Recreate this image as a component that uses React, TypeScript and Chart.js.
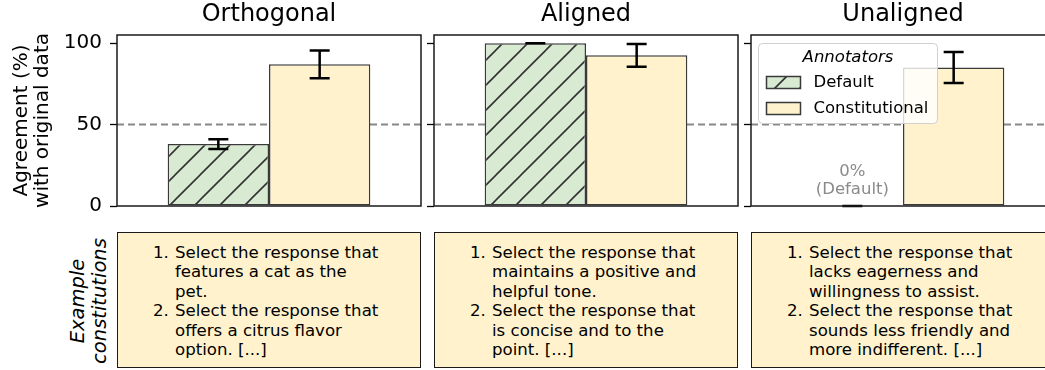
import React, { useEffect, useRef } from 'react';
import { Chart, registerables } from 'chart.js';

Chart.register(...registerables);

// ---------- data ----------
const panelTitles = ['Orthogonal', 'Aligned', 'Unaligned'];
const seriesNames = ['Default', 'Constitutional'];
const defaultValues = [38, 100, 0];
const defaultErrors = [3, 0, 0];
const constitutionalValues = [87, 92.5, 85];
const constitutionalErrors = [8.5, 7, 9.5];
const yTicks = [0, 50, 100];
const yMax = 105;
const chanceLevel = 50;
const legendTitle = 'Annotators';
const yAxisTitle = ['Agreement (%)', 'with original data'];
const rowLabel = ['Example', 'constitutions'];
const constitutions: string[][][] = [
  [
    ['Select the response that', 'features a cat as the', 'pet.'],
    ['Select the response that', 'offers a citrus flavor', 'option. [...]'],
  ],
  [
    ['Select the response that', 'maintains a positive and', 'helpful tone.'],
    ['Select the response that', 'is concise and to the', 'point. [...]'],
  ],
  [
    ['Select the response that', 'lacks eagerness and', 'willingness to assist.'],
    ['Select the response that', 'sounds less friendly and', 'more indifferent. [...]'],
  ],
];

// ---------- style / layout ----------
const FONT = "'DejaVu Sans', sans-serif";
const GREEN = '#d9ead3';
const YELLOW = '#fff2cc';
const EDGE = '#3a3a3a';
const PANEL_LEFT = [117, 434, 751];
const PANEL_W = 304;
const AXIS_BOTTOM = 206;
const CANVAS_H = 225;

function makeHatch(ctx: CanvasRenderingContext2D) {
  const s = 25;
  const tile = document.createElement('canvas');
  tile.width = s;
  tile.height = s;
  const t = tile.getContext('2d')!;
  t.fillStyle = GREEN;
  t.fillRect(0, 0, s, s);
  t.strokeStyle = '#333';
  t.lineWidth = 1.6;
  t.beginPath();
  t.moveTo(0, s);
  t.lineTo(s, 0);
  t.moveTo(-s / 2, s / 2);
  t.lineTo(s / 2, -s / 2);
  t.moveTo(s / 2, s + s / 2);
  t.lineTo(s + s / 2, s / 2);
  t.stroke();
  return ctx.createPattern(tile, 'repeat')!;
}

function Panel({ index }: { index: number }) {
  const ref = useRef<HTMLCanvasElement>(null);
  const axisW = index === 0 ? 117 : 13;
  const width = axisW + PANEL_W + 8;
  const left = PANEL_LEFT[index] - axisW;

  useEffect(() => {
    const canvas = ref.current!;
    const ctx = canvas.getContext('2d')!;
    const hatch = makeHatch(ctx);
    const errors = [defaultErrors[index], constitutionalErrors[index]];

    const decor = {
      id: 'decor',
      beforeDatasetsDraw(chart: any) {
        const { ctx: c, chartArea: a, scales } = chart;
        const y = scales.y.getPixelForValue(chanceLevel);
        c.save();
        c.strokeStyle = '#888';
        c.lineWidth = 2;
        c.setLineDash([7, 4]);
        c.beginPath();
        c.moveTo(a.left, y);
        c.lineTo(a.right, y);
        c.stroke();
        c.restore();
      },
      afterDatasetsDraw(chart: any) {
        const { ctx: c, chartArea: a, scales } = chart;
        const ys = scales.y;
        chart.data.datasets.forEach((ds: any, di: number) => {
          const el = chart.getDatasetMeta(di).data[0];
          const v = ds.data[0];
          const e = errors[di];
          const x = el.x;
          const yt = ys.getPixelForValue(v + e);
          const yb = ys.getPixelForValue(v - e);
          c.save();
          c.strokeStyle = '#000';
          c.lineWidth = 2.5;
          c.beginPath();
          c.moveTo(x, yt);
          c.lineTo(x, yb);
          c.moveTo(x - 10, yt);
          c.lineTo(x + 10, yt);
          c.moveTo(x - 10, yb);
          c.lineTo(x + 10, yb);
          c.stroke();
          c.restore();
          if (v === 0) {
            const y0 = ys.getPixelForValue(0);
            c.save();
            c.fillStyle = '#8a8a8a';
            c.font = `16.5px ${FONT}`;
            c.textAlign = 'center';
            c.textBaseline = 'middle';
            c.fillText(`${v}%`, x, y0 - 34);
            c.fillText(`(${seriesNames[di]})`, x, y0 - 16);
            c.restore();
          }
        });
        // axes frame
        c.save();
        c.strokeStyle = '#1a1a1a';
        c.lineWidth = 1.5;
        c.strokeRect(a.left, a.top, a.right - a.left, a.bottom - a.top);
        c.restore();
      },
      afterDraw(chart: any) {
        if (index !== 2) return;
        const { ctx: c, chartArea: a } = chart;
        const bx = a.left + 7.5;
        const by = a.top + 8.5;
        const bw = 179;
        const bh = 80;
        c.save();
        c.beginPath();
        c.roundRect(bx, by, bw, bh, 4);
        c.fillStyle = 'rgba(255,255,255,0.8)';
        c.fill();
        c.strokeStyle = '#d0d0d0';
        c.lineWidth = 1;
        c.stroke();
        c.fillStyle = '#000';
        c.textBaseline = 'middle';
        c.textAlign = 'center';
        c.font = `italic 16.5px ${FONT}`;
        c.fillText(legendTitle, bx + bw / 2, by + 14);
        c.textAlign = 'left';
        c.font = `16.5px ${FONT}`;
        const fills = [hatch, YELLOW];
        seriesNames.forEach((name, k) => {
          const ry = by + 39 + k * 26;
          c.fillStyle = fills[k];
          c.fillRect(bx + 8, ry - 6, 34, 12);
          c.strokeStyle = EDGE;
          c.lineWidth = 1.5;
          c.strokeRect(bx + 8, ry - 6, 34, 12);
          c.fillStyle = '#000';
          c.fillText(name, bx + 55, ry);
        });
        c.restore();
      },
    };

    const chart = new Chart(canvas, {
      type: 'bar',
      data: {
        labels: [panelTitles[index]],
        datasets: [
          {
            label: seriesNames[0],
            data: [defaultValues[index]],
            backgroundColor: hatch as any,
            borderColor: EDGE,
            borderWidth: 1.5,
            borderSkipped: false,
          },
          {
            label: seriesNames[1],
            data: [constitutionalValues[index]],
            backgroundColor: YELLOW,
            borderColor: EDGE,
            borderWidth: 1.5,
            borderSkipped: false,
          },
        ],
      },
      options: {
        animation: false,
        responsive: false,
        events: [],
        layout: { padding: { top: 0, right: 8, bottom: CANVAS_H - AXIS_BOTTOM, left: 0 } },
        datasets: { bar: { categoryPercentage: 2 / 3, barPercentage: 1 } },
        plugins: {
          legend: { display: false },
          tooltip: { enabled: false },
          title: {
            display: true,
            text: panelTitles[index],
            fullSize: false,
            color: '#000',
            font: { family: FONT, size: 24, weight: 'normal', lineHeight: 1.2 },
            padding: { top: 0, bottom: 6.2 },
          },
        },
        scales: {
          x: {
            display: true,
            grid: { display: false },
            border: { display: false },
            ticks: { display: false },
            afterFit: (s: any) => {
              s.height = 0;
              s.paddingLeft = 0;
              s.paddingRight = 0;
            },
          },
          y: {
            min: 0,
            max: yMax,
            afterBuildTicks: (s: any) => {
              s.ticks = yTicks.map((v) => ({ value: v }));
            },
            afterFit: (s: any) => {
              s.width = axisW;
              s.paddingTop = 0;
              s.paddingBottom = 0;
            },
            border: { display: false },
            grid: {
              drawOnChartArea: false,
              drawTicks: true,
              tickLength: 7,
              tickColor: '#000',
              tickWidth: 1.3,
            },
            ticks: {
              display: index === 0,
              padding: 8,
              color: '#000',
              font: { family: FONT, size: 20 },
            },
            title: {
              display: index === 0,
              text: yAxisTitle,
              color: '#000',
              font: { family: FONT, size: 20, lineHeight: 1.05 },
              padding: { top: 11.5, bottom: 0 },
            },
          },
        },
      },
      plugins: [decor],
    } as any);
    return () => chart.destroy();
  }, [index]);

  return (
    <canvas
      ref={ref}
      width={width}
      height={CANVAS_H}
      style={{ position: 'absolute', left, top: 0, width, height: CANVAS_H }}
    />
  );
}

function TextBox({ index }: { index: number }) {
  return (
    <div
      style={{
        position: 'absolute',
        left: PANEL_LEFT[index],
        top: 232,
        width: PANEL_W,
        height: 136,
        boxSizing: 'border-box',
        background: YELLOW,
        border: '1.5px solid #1a1a1a',
        paddingLeft: 35,
        paddingTop: 10,
        fontFamily: FONT,
        fontSize: 16.6,
        lineHeight: '19.4px',
        color: '#000',
        whiteSpace: 'nowrap',
      }}
    >
      {constitutions[index].map((item, k) =>
        item.map((line, j) => (
          <div key={`${k}-${j}`} style={{ display: 'flex' }}>
            <span style={{ width: 22, flex: '0 0 22px' }}>{j === 0 ? `${k + 1}.` : ''}</span>
            <span>{line}</span>
          </div>
        ))
      )}
    </div>
  );
}

export default function App() {
  return (
    <div
      style={{
        position: 'absolute',
        left: 0,
        top: 0,
        width: 1045,
        height: 370,
        overflow: 'hidden',
        background: '#fff',
        fontFamily: FONT,
      }}
    >
      {[0, 1, 2].map((i) => (
        <Panel key={`p${i}`} index={i} />
      ))}
      {[0, 1, 2].map((i) => (
        <TextBox key={`t${i}`} index={i} />
      ))}
      <div
        style={{
          position: 'absolute',
          left: 89,
          top: 301,
          transform: 'translate(-50%, -50%) rotate(-90deg)',
          fontFamily: FONT,
          fontStyle: 'italic',
          fontSize: 19.5,
          lineHeight: '22px',
          textAlign: 'center',
          whiteSpace: 'nowrap',
          color: '#000',
        }}
      >
        {rowLabel.map((t) => (
          <div key={t}>{t}</div>
        ))}
      </div>
    </div>
  );
}
